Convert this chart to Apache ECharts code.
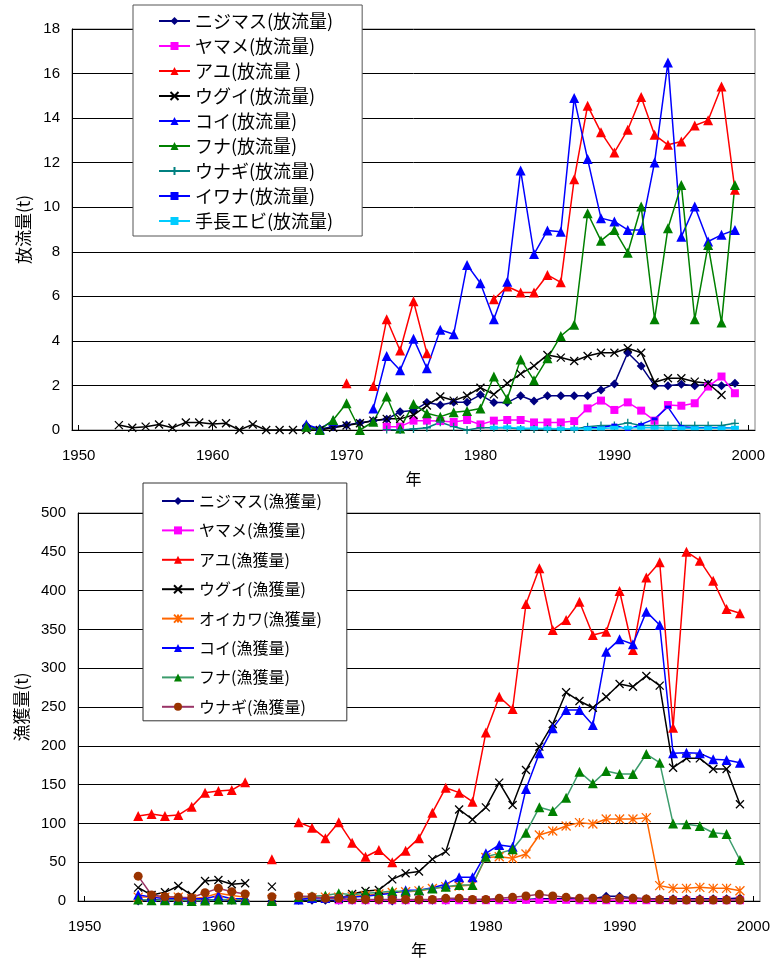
<!DOCTYPE html>
<html><head><meta charset="utf-8">
<script src="https://cdn.jsdelivr.net/npm/echarts@6/dist/echarts.min.js"></script>
<style>html,body{margin:0;padding:0;background:#fff}#c{width:773px;height:963px}</style>
</head><body><div id="c"></div>
<script>
// ---------- top chart: 放流量 (t) ----------
const topYears = [1953,1954,1955,1956,1957,1958,1959,1960,1961,1962,1963,1964,1965,1966,1967,1968,1969,1970,1971,1972,1973,1974,1975,1976,1977,1978,1979,1980,1981,1982,1983,1984,1985,1986,1987,1988,1989,1990,1991,1992,1993,1994,1995,1996,1997,1998,1999];
const N = null;
const topNijimasu = [N,N,N,N,N,N,N,N,N,N,N,N,N,N,0.2,0.05,0.15,0.22,0.33,0.42,0.48,0.82,0.87,1.23,1.12,1.25,1.25,1.58,1.23,1.23,1.54,1.3,1.54,1.54,1.54,1.54,1.8,2.07,3.47,2.87,1.99,1.99,2.05,1.99,2.05,1.99,2.1];
const topYamame = [N,N,N,N,N,N,N,N,N,N,N,N,N,N,N,N,N,N,N,N,0.15,0.15,0.42,0.42,0.4,0.36,0.45,0.25,0.42,0.45,0.45,0.34,0.34,0.34,0.4,0.97,1.32,0.9,1.24,0.87,0.42,1.12,1.09,1.2,1.95,2.4,1.65];
const topAyu = [N,N,N,N,N,N,N,N,N,N,N,N,N,N,N,N,N,2.1,N,1.98,4.97,3.57,5.78,3.45,N,N,N,N,5.87,6.44,6.17,6.17,6.96,6.63,11.26,14.56,13.36,12.46,13.48,14.95,13.25,12.8,12.95,13.67,13.9,15.42,10.78];
const topUgui = [0.22,0.1,0.15,0.25,0.1,0.34,0.34,0.27,0.3,0,0.25,0,0,0,0,0,0.1,0.2,0.3,0.42,0.5,0.5,0.67,1.1,1.5,1.32,1.54,1.9,1.6,2.1,2.52,2.88,3.37,3.25,3.1,3.32,3.47,3.47,3.67,3.47,2.14,2.32,2.32,2.17,2.1,1.57,N];
const topKoi = [N,N,N,N,N,N,N,N,N,N,N,N,N,N,0.25,0.05,0.42,N,N,0.97,3.32,2.68,4.1,2.77,4.5,4.3,7.41,6.59,4.97,6.66,11.65,7.9,8.96,8.9,14.9,12.16,9.51,9.36,8.98,8.98,12.01,16.5,8.68,10.03,8.46,8.76,8.98];
const topFuna = [N,N,N,N,N,N,N,N,N,N,N,N,N,N,0.15,0,0.45,1.2,0,0.37,1.5,0.07,1.17,0.75,0.6,0.8,0.85,0.97,2.4,1.4,3.17,2.23,3.22,4.22,4.72,9.73,8.5,8.98,7.96,10.03,4.97,9.06,11.0,4.97,8.3,4.82,11.0];
const topUnagi = [N,N,N,N,N,N,N,N,N,N,N,N,N,N,N,N,N,N,N,N,0.02,0,0.05,0.1,0.35,0.15,0,0.1,0.1,0.1,0.05,0.05,0.05,0.05,0.05,0.15,0.2,0.2,0.32,0.2,0.2,0.2,0.2,0.2,0.2,0.2,0.3];
const topIwana = [N,N,N,N,N,N,N,N,N,N,N,N,N,N,N,N,N,N,N,N,N,N,N,N,N,N,N,N,N,N,N,N,N,N,N,0.1,0.1,0.22,0.03,0.25,0.5,1.03,0.15,0.1,0.1,0.1,0.1];
const topEbi = [N,N,N,N,N,N,N,N,N,N,N,N,N,N,N,N,N,N,N,N,N,N,N,N,N,N,N,N,0.1,0.12,0.08,0.08,0.07,0.06,0.06,0.06,0.07,0.1,0.1,0.1,0.1,0.08,0.08,0.08,0.08,0.08,0.1];
const topYTicks = {min:0, max:18, interval:2};

// ---------- bottom chart: 漁獲量 (t) ----------
const botYears = [1954,1955,1956,1957,1958,1959,1960,1961,1962,1963,1964,1965,1966,1967,1968,1969,1970,1971,1972,1973,1974,1975,1976,1977,1978,1979,1980,1981,1982,1983,1984,1985,1986,1987,1988,1989,1990,1991,1992,1993,1994,1995,1996,1997,1998,1999];
const botNijimasu = [0,2,1,1,1,1,2,1,1,N,0,N,1,1,1,1,1,1,1,0,1,1,1,1,2,2,2,2,2,2,3,3,3,3,3,6,6,4,3,3,3,3,3,3,3,4];
const botYamame = [N,N,N,N,N,N,N,N,N,N,N,N,N,N,N,1,1,1,1,1,1,1,1,1,1,1,1,1,1.5,1.5,1.5,1.5,1.5,1,1,1,1,1,1,1,1,1,1,1,1,1];
const botAyu = [109.5,112,109.5,110.8,121.6,139.6,141.8,143,153,N,53.7,N,101.4,94.5,80.8,101.4,75.2,57,65.7,49.8,64.9,81,113.8,146,139.6,128,217,263.3,247.4,382.7,428.7,349.2,362,385.7,342.8,347,399.5,323.5,417,436.4,223.4,450.2,438.6,412.8,376.3,370.7];
const botUgui = [17.2,7.7,11.2,19.3,7.7,25.8,27,21.5,22.8,N,18.5,N,N,N,N,3,9,12.9,14.2,27.9,35.7,38,54,63.6,118,105,120.7,152.5,123.7,168.8,198.9,228,269,257.7,249,263.3,279.6,276.2,290,277.5,171.8,183.8,183.8,170,170,124.6];
const botOikawa = [5,5,5,5,3,5,10,7,5,N,2,N,4,4,5,5,6,7,9,11,12,13,16,18.5,19.3,20.6,56,57,55,60.6,85,90.2,96.6,101,99.2,105.7,105.7,105.7,107.4,19.8,16.3,16.3,17.6,16.3,16.3,13.3];
const botKoi = [8,5,3,3,3,3,7,3,3,N,1,N,2,4,4,5,5,6,8,10,14,14,17,21.5,30.5,30.5,61.4,72.2,70,144.3,190.3,222.5,246,246,226.8,321.3,337.2,330.8,372.9,355.7,190.3,191.2,190.3,182.6,181.7,178.3];
const botFuna = [2,1,1,1,0,0.5,2,2,1,N,0,N,5,6,7,10,8,10,11,13,12,14,16,18.5,20.6,20.6,57,61.4,66.6,88,120.7,116,133,166.6,151.6,167.5,163.7,163.7,189.4,178.3,100,98.8,96.6,88,86.3,52.8];
const botUnagi = [32,7.7,5.6,4.7,4.3,10.7,16.3,12,9,N,5.6,N,6.4,5.6,3.4,3.4,2,2,2,2,2,2,2,3.4,3.4,2,2,3.4,4.7,6.4,8.6,6.4,4.7,3.4,3.4,2.6,3.4,3.4,2.6,2,1.3,1.3,1.3,1.3,1.3,1.3];
const botYTicks = {min:0, max:500, interval:50};

const xLabelValues = [1950,1960,1970,1980,1990,2000];

// ---------- build ----------
const SYM_X = 'path://M0,0L10,10M10,0L0,10';
const SYM_PLUS = 'path://M5,0L5,10M0,5L10,5';
const SYM_AST = 'path://M0,0L10,10M10,0L0,10M5,0L5,10';
const pairs = (years, arr) => years.map((y, i) => [y, arr[i] === null ? '-' : arr[i]]);

function mk(name, years, arr, idx, color, symbol, size, opt) {
  opt = opt || {};
  const stroke = opt.stroke;
  return {
    name, type: 'line', xAxisIndex: idx, yAxisIndex: idx,
    data: pairs(years, arr), symbol, symbolSize: size, connectNulls: false,
    showAllSymbol: true,
    lineStyle: {color: opt.lineColor || color, width: 1.5},
    itemStyle: stroke ? {color: 'rgba(0,0,0,0)', borderColor: color, borderWidth: 1.3}
                      : {color: color, borderColor: color, borderWidth: 0},
    emphasis: {disabled: true}, z: 2
  };
}

const topNames = ['ニジマス(放流量)','ヤマメ(放流量)','アユ(放流量 )','ウグイ(放流量)','コイ(放流量)','フナ(放流量)','ウナギ(放流量)','イワナ(放流量)','手長エビ(放流量)'];
const botNames = ['ニジマス(漁獲量)','ヤマメ(漁獲量)','アユ(漁獲量)','ウグイ(漁獲量)','オイカワ(漁獲量)','コイ(漁獲量)','フナ(漁獲量)','ウナギ(漁獲量)'];

const series = [
  mk(topNames[0], topYears, topNijimasu, 0, '#000080', 'diamond', 9),
  mk(topNames[1], topYears, topYamame, 0, '#FF00FF', 'rect', 8),
  mk(topNames[2], topYears, topAyu, 0, '#FF0000', 'triangle', 10),
  mk(topNames[3], topYears, topUgui, 0, '#000000', SYM_X, 8, {stroke:true}),
  mk(topNames[4], topYears, topKoi, 0, '#0000FF', 'triangle', 10),
  mk(topNames[5], topYears, topFuna, 0, '#008000', 'triangle', 10),
  mk(topNames[6], topYears, topUnagi, 0, '#008080', SYM_PLUS, 8, {stroke:true}),
  mk(topNames[7], topYears, topIwana, 0, '#0000FF', 'rect', [6,3]),
  mk(topNames[8], topYears, topEbi, 0, '#00CCFF', 'rect', [8,4]),
  mk(botNames[0], botYears, botNijimasu, 1, '#000080', 'diamond', 9),
  mk(botNames[1], botYears, botYamame, 1, '#FF00FF', 'rect', 8),
  mk(botNames[2], botYears, botAyu, 1, '#FF0000', 'triangle', 10),
  mk(botNames[3], botYears, botUgui, 1, '#000000', SYM_X, 8, {stroke:true}),
  mk(botNames[4], botYears, botOikawa, 1, '#FF6600', SYM_AST, 9, {stroke:true}),
  mk(botNames[5], botYears, botKoi, 1, '#0000FF', 'triangle', 10),
  mk(botNames[6], botYears, botFuna, 1, '#008000', 'triangle', 10, {lineColor:'#3C9C6C'}),
  mk(botNames[7], botYears, botUnagi, 1, '#993300', 'circle', 9, {lineColor:'#993366'})
];

const JP = '"Noto Sans CJK JP", sans-serif';
const NUM = '"Liberation Sans", Arial, sans-serif';

function xAxis(idx) {
  return {
    type: 'value', gridIndex: idx, min: 1949.5, max: 2000.5,
    name: '年', nameLocation: 'middle', nameGap: 41,
    nameTextStyle: {fontFamily: JP, fontSize: 16, color: '#000'},
    axisLine: {show: true, onZero: false, lineStyle: {color: '#000', width: 1}},
    axisTick: {show: true, inside: true, length: 5, customValues: xLabelValues, lineStyle: {color: '#000'}},
    axisLabel: {customValues: xLabelValues, formatter: v => String(v), margin: 18, fontFamily: NUM, fontSize: 15, color: '#000'},
    splitLine: {show: false}
  };
}
function yAxis(idx, t, name, gap) {
  return {
    type: 'value', gridIndex: idx, min: t.min, max: t.max, interval: t.interval,
    name, nameLocation: 'middle', nameGap: gap,
    nameTextStyle: {fontFamily: JP, fontSize: 17, color: '#000'},
    axisLine: {show: true, lineStyle: {color: '#000', width: 1}},
    axisTick: {show: true, inside: true, length: 5, lineStyle: {color: '#000'}},
    axisLabel: {margin: 12, fontFamily: NUM, fontSize: 15, color: '#000'},
    splitLine: {show: true, lineStyle: {color: '#000', width: 1}}
  };
}

const chart = echarts.init(document.getElementById('c'), null, {renderer: 'canvas'});
chart.setOption({
  animation: false,
  backgroundColor: '#fff',
  grid: [
    {left: 72, top: 29, width: 683, height: 401, show: true, borderColor: '#808080', borderWidth: 1, backgroundColor: '#fff'},
    {left: 78, top: 513, width: 683, height: 388, show: true, borderColor: '#808080', borderWidth: 1, backgroundColor: '#fff'}
  ],
  xAxis: [xAxis(0), xAxis(1)],
  yAxis: [yAxis(0, topYTicks, '放流量(t)', 40), yAxis(1, botYTicks, '漁獲量(t)', 46)],
  legend: [
    {data: topNames, orient: 'vertical', left: 133, top: 5, itemWidth: 31, itemHeight: 10, itemGap: 7,
     padding: [7, 29, 6, 25], backgroundColor: '#fff', borderColor: '#555', borderWidth: 1,
     textStyle: {fontFamily: JP, fontSize: 18, lineHeight: 18, color: '#000'}, selectedMode: false},
    {data: botNames, orient: 'vertical', left: 143, top: 483, itemWidth: 32, itemHeight: 10, itemGap: 9.4,
     padding: [8, 25, 4, 18], backgroundColor: '#fff', borderColor: '#333', borderWidth: 1,
     textStyle: {fontFamily: JP, fontSize: 16, lineHeight: 20, color: '#000'}, selectedMode: false}
  ],
  series
});
</script></body></html>
